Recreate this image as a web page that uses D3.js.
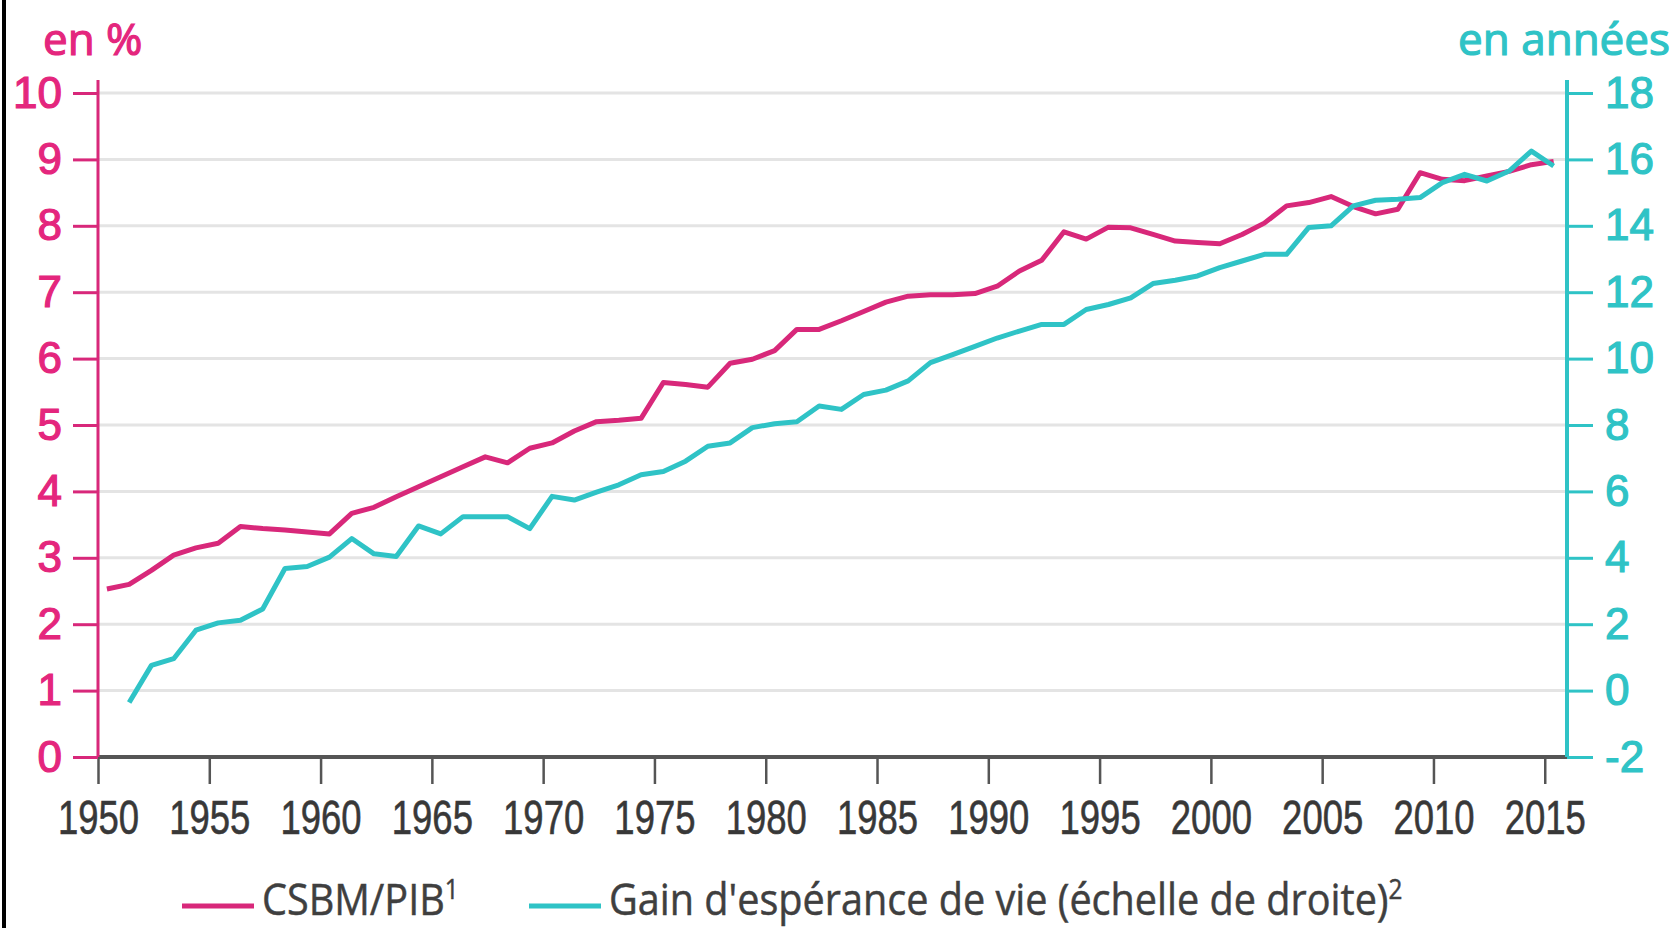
<!DOCTYPE html>
<html>
<head>
<meta charset="utf-8">
<script src="https://cdn.jsdelivr.net/npm/d3@7"></script>
<style>
  body { margin: 0; background: #fff; }
  svg { display: block; font-family: "Open Sans", "Noto Sans", sans-serif; }
</style>
</head>
<body>
<svg id="svg" width="1676" height="928"></svg>
<script>
// data
const years = d3.range(1950, 2016);
const csbmPib = [2.53, 2.60, 2.81, 3.04, 3.15, 3.22, 3.47, 3.44, 3.42, 3.39,
  3.36, 3.67, 3.76, 3.92, 4.07, 4.22, 4.37, 4.52, 4.43, 4.65,
  4.73, 4.91, 5.05, 5.07, 5.10, 5.64, 5.61, 5.57, 5.93, 5.99,
  6.12, 6.44, 6.44, 6.57, 6.71, 6.85, 6.94, 6.96, 6.96, 6.98,
  7.09, 7.32, 7.48, 7.91, 7.80, 7.98, 7.97, 7.87, 7.77, 7.75,
  7.73, 7.87, 8.04, 8.30, 8.35, 8.44, 8.29, 8.18, 8.25, 8.80,
  8.70, 8.68, 8.75, 8.82, 8.92, 8.97];
// life expectancy gain, starts in 1951
const gainYears = d3.range(1951, 2016);
const gainVie = [-0.36, 0.76, 0.96, 1.82, 2.04, 2.12, 2.46, 3.68, 3.74,
  4.02, 4.58, 4.12, 4.04, 4.96, 4.72, 5.24, 5.24, 5.24, 4.88,
  5.85, 5.74, 5.98, 6.20, 6.50, 6.60, 6.91, 7.36, 7.46, 7.92,
  8.04, 8.10, 8.57, 8.47, 8.92, 9.05, 9.33, 9.88, 10.12, 10.37,
  10.62, 10.83, 11.03, 11.03, 11.48, 11.63, 11.83, 12.26, 12.36, 12.49,
  12.74, 12.94, 13.14, 13.14, 13.95, 14.00, 14.60, 14.77, 14.80, 14.85,
  15.30, 15.55, 15.35, 15.65, 16.25, 15.80];
const leftTicks = d3.range(0, 11);
const rightTicks = d3.range(-2, 19, 2);
const xTicks = d3.range(1950, 2016, 5);

const pink = '#d8287a';
const pinkText = '#e4267d';
const teal = '#2fc3c6';

const svg = d3.select('#svg');

const x = d3.scaleLinear().domain([1950, 2016]).range([98, 1567]);
const yL = d3.scaleLinear().domain([0, 10]).range([757, 93]);
const yR = d3.scaleLinear().domain([-2, 18]).range([757, 93]);
const mid = 0.4; // points sit inside the year

// left border
svg.append('rect').attr('x', 2).attr('y', 0).attr('width', 4).attr('height', 928).attr('fill', '#000');

// grid
svg.append('g')
  .selectAll('line')
  .data(leftTicks.filter(d => d > 0))
  .enter().append('line')
  .attr('x1', x(1950)).attr('x2', x(2016))
  .attr('y1', d => yL(d)).attr('y2', d => yL(d))
  .attr('stroke', '#e4e4e4').attr('stroke-width', 3);

// x axis
const xAxis = svg.append('g')
  .attr('transform', 'translate(0,' + yL(0) + ')')
  .call(d3.axisBottom(x).tickValues(xTicks).tickSize(27).tickSizeOuter(0).tickPadding(16).tickFormat(d => String(d)));
xAxis.select('.domain').remove();
xAxis.selectAll('line').attr('stroke', '#555').attr('stroke-width', 2.5);
xAxis.selectAll('text')
  .attr('fill', '#383838')
  .attr('stroke', '#383838').attr('stroke-width', 0.6)
  .style('font-size', '48px')
  .attr('transform', 'scale(0.76,1)');
svg.append('line')
  .attr('x1', x(1950)).attr('x2', x(2016))
  .attr('y1', yL(0)).attr('y2', yL(0))
  .attr('stroke', '#555').attr('stroke-width', 4);

// left axis
const lAxis = svg.append('g')
  .attr('transform', 'translate(' + x(1950) + ',0)')
  .call(d3.axisLeft(yL).tickValues(leftTicks).tickSize(25).tickSizeOuter(0).tickPadding(11).tickFormat(d => String(d)));
lAxis.select('.domain').remove();
lAxis.selectAll('line').attr('stroke', pink).attr('stroke-width', 3);
lAxis.selectAll('text')
  .attr('fill', pinkText)
  .attr('stroke', pinkText).attr('stroke-width', 1.2)
  .style('font-size', '44px');
svg.append('line')
  .attr('x1', x(1950)).attr('x2', x(1950))
  .attr('y1', yL(0)).attr('y2', yL(10) - 13)
  .attr('stroke', pink).attr('stroke-width', 3);

// right axis
const rAxis = svg.append('g')
  .attr('transform', 'translate(' + x(2016) + ',0)')
  .call(d3.axisRight(yR).tickValues(rightTicks).tickSize(26).tickSizeOuter(0).tickPadding(12).tickFormat(d => String(d)));
rAxis.select('.domain').remove();
rAxis.selectAll('line').attr('stroke', teal).attr('stroke-width', 3);
rAxis.selectAll('text')
  .attr('fill', teal)
  .attr('stroke', teal).attr('stroke-width', 1.2)
  .style('font-size', '44px');
svg.append('line')
  .attr('x1', x(2016)).attr('x2', x(2016))
  .attr('y1', yR(-2)).attr('y2', yR(18) - 13)
  .attr('stroke', teal).attr('stroke-width', 4);

// series
const pinkLine = d3.line()
  .x((d, i) => x(years[i] + mid))
  .y(d => yL(d));
const tealLine = d3.line()
  .x((d, i) => x(gainYears[i] + mid))
  .y(d => yR(d));

svg.append('path')
  .datum(csbmPib)
  .attr('d', pinkLine)
  .attr('fill', 'none')
  .attr('stroke', pink)
  .attr('stroke-width', 5)
  .attr('stroke-linejoin', 'round');

svg.append('path')
  .datum(gainVie)
  .attr('d', tealLine)
  .attr('fill', 'none')
  .attr('stroke', teal)
  .attr('stroke-width', 5)
  .attr('stroke-linejoin', 'round');

// unit titles
svg.append('text')
  .attr('x', 43).attr('y', 55)
  .attr('fill', pinkText)
  .attr('stroke', pinkText).attr('stroke-width', 1.2)
  .style('font-size', '44px')
  .text('en %');

svg.append('text')
  .attr('x', 1670).attr('y', 55)
  .attr('text-anchor', 'end')
  .attr('fill', teal)
  .attr('stroke', teal).attr('stroke-width', 1.2)
  .style('font-size', '44px')
  .text('en années');

// legend
const legend = [
  {label: 'CSBM/PIB', sup: '1', color: pink, x: 182},
  {label: 'Gain d\'espérance de vie (échelle de droite)', sup: '2', color: teal, x: 529}
];
const lg = svg.append('g');
legend.forEach(function(l) {
  lg.append('line')
    .attr('x1', l.x).attr('x2', l.x + 72)
    .attr('y1', 906).attr('y2', 906)
    .attr('stroke', l.color).attr('stroke-width', 5);
  const t = lg.append('text')
    .attr('transform', 'translate(' + (l.x + 80) + ',915) scale(0.9,1)')
    .attr('fill', '#3f3f3f')
    .attr('stroke', '#3f3f3f').attr('stroke-width', 0.5)
    .style('font-size', '44px');
  t.append('tspan').text(l.label);
  t.append('tspan').attr('dy', -16).style('font-size', '27px').text(l.sup);
});
</script>
</body>
</html>
